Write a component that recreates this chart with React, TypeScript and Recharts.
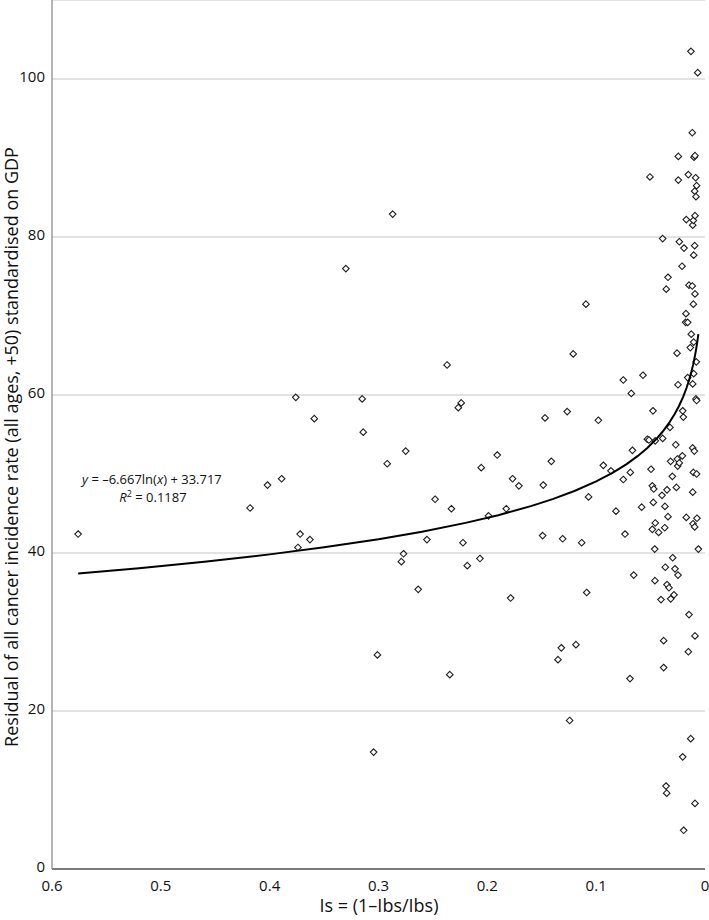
import React from "react";
import {
  ScatterChart,
  Scatter,
  XAxis,
  YAxis,
  CartesianGrid,
} from "recharts";

// Is = (1 - Ibs/Ibs) for each country
const IS_VALUES = [
  0.576, 0.418, 0.402, 0.389, 0.376, 0.372, 0.374, 0.363, 0.359, 0.33,
  0.315, 0.314, 0.3045, 0.301, 0.292, 0.287, 0.279, 0.277, 0.275, 0.2635,
  0.2555, 0.248, 0.237, 0.2345, 0.233, 0.2267, 0.224, 0.2224, 0.2184, 0.2068,
  0.2056, 0.1989, 0.1909, 0.1826, 0.1786, 0.1768, 0.171, 0.1492, 0.1486, 0.147,
  0.1412, 0.1351, 0.132, 0.1308, 0.1266, 0.1244, 0.1211, 0.1186, 0.1133, 0.1094,
  0.1087, 0.107, 0.098, 0.0934, 0.0864, 0.0818, 0.0751, 0.0751, 0.0735, 0.0689,
  0.0686, 0.0677, 0.0667, 0.0655, 0.0582, 0.057, 0.053, 0.0515, 0.0506, 0.0496,
  0.0484, 0.0484, 0.0478, 0.0475, 0.0471, 0.0462, 0.046, 0.0457, 0.0457, 0.0426,
  0.0404, 0.0395, 0.0389, 0.0389, 0.038, 0.038, 0.037, 0.0368, 0.0365, 0.0358,
  0.0356, 0.0352, 0.0349, 0.0349, 0.034, 0.034, 0.0331, 0.0322, 0.0316, 0.0315,
  0.03, 0.0297, 0.0285, 0.0276, 0.0269, 0.0263, 0.0257, 0.0254, 0.0251, 0.0248,
  0.0248, 0.0245, 0.0245, 0.0236, 0.0236, 0.0211, 0.0208, 0.0205, 0.0205, 0.0199,
  0.0196, 0.0193, 0.0178, 0.0175, 0.0172, 0.0172, 0.0159, 0.0159, 0.0153, 0.0153,
  0.0147, 0.0147, 0.0135, 0.0131, 0.0129, 0.0126, 0.0117, 0.0117, 0.0113, 0.0113,
  0.0113, 0.0113, 0.011, 0.0107, 0.0107, 0.0107, 0.0104, 0.0104, 0.0104, 0.0101,
  0.0098, 0.0095, 0.0095, 0.0095, 0.0092, 0.0092, 0.0092, 0.0092, 0.0092, 0.0086,
  0.0083, 0.0083, 0.008, 0.0077, 0.0077, 0.0077, 0.0074, 0.0067, 0.0061,
];

// residual of all cancer incidence rate (+50), same order as IS_VALUES
const RESIDUAL_VALUES = [
  42.4, 45.7, 48.6, 49.4, 59.7, 42.4, 40.7, 41.7, 57.0, 76.0,
  59.5, 55.3, 14.8, 27.1, 51.3, 82.9, 38.9, 39.9, 52.9, 35.4,
  41.7, 46.8, 63.8, 24.6, 45.6, 58.4, 59.0, 41.3, 38.4, 39.3,
  50.8, 44.7, 52.4, 45.6, 34.3, 49.4, 48.5, 42.2, 48.6, 57.1,
  51.6, 26.5, 28.0, 41.8, 57.9, 18.8, 65.2, 28.4, 41.3, 71.5,
  35.0, 47.1, 56.8, 51.1, 50.4, 45.3, 61.9, 49.3, 42.4, 24.1,
  50.2, 60.2, 53.0, 37.2, 45.8, 62.5, 54.4, 54.3, 87.6, 50.6,
  48.5, 43.0, 58.0, 46.4, 48.1, 40.5, 36.5, 54.2, 43.8, 42.6,
  34.1, 47.3, 79.8, 54.5, 28.9, 25.5, 43.2, 45.9, 38.2, 10.5,
  73.4, 9.6, 48.0, 36.0, 74.9, 44.6, 35.6, 55.9, 51.6, 34.2,
  49.7, 39.4, 34.7, 38.0, 53.7, 48.3, 65.3, 51.9, 51.0, 61.3,
  37.2, 90.2, 87.2, 79.4, 51.4, 76.3, 52.3, 58.0, 14.2, 57.2,
  4.9, 78.6, 69.2, 70.3, 82.2, 44.5, 69.2, 62.2, 87.9, 27.5,
  73.9, 32.2, 66.0, 16.5, 103.5, 67.7, 93.2, 73.8, 81.5, 61.4,
  53.3, 47.7, 43.7, 82.1, 71.5, 50.2, 77.7, 66.7, 62.7, 90.1,
  52.9, 85.8, 78.9, 43.3, 90.3, 82.7, 72.8, 29.5, 8.3, 87.5,
  85.1, 59.5, 64.2, 86.5, 59.3, 50.0, 44.4, 100.8, 40.5,
];

// log trendline shown on the chart: y = -6.667 ln(x) + 33.717
const TREND_A = -6.667;
const TREND_B = 33.717;
const TREND_X = [
  0.576, 0.52, 0.46, 0.4, 0.35, 0.3, 0.26, 0.22, 0.19, 0.16, 0.14, 0.12,
  0.1, 0.085, 0.072, 0.062, 0.053, 0.045, 0.039, 0.033, 0.028, 0.024,
  0.02, 0.017, 0.0145, 0.0125, 0.0108, 0.0094, 0.0082, 0.0072, 0.0065, 0.0061,
];

const X_TICKS = [0, 0.1, 0.2, 0.3, 0.4, 0.5, 0.6];
const Y_TICKS = [0, 20, 40, 60, 80, 100];

const points = IS_VALUES.map((x, i) => ({ x, y: RESIDUAL_VALUES[i] }));
const trend = TREND_X.map((x) => ({ x, y: TREND_A * Math.log(x) + TREND_B }));

const FONT = "'Open Sans', 'Liberation Sans', sans-serif";

const Diamond = (props: any) => {
  const { cx, cy } = props;
  if (cx == null || cy == null) return <g />;
  const r = 3.3;
  return (
    <polygon
      points={`${cx},${cy - r} ${cx + r},${cy} ${cx},${cy + r} ${cx - r},${cy}`}
      fill="#ffffff"
      stroke="#1f1f1f"
      strokeWidth={1.1}
    />
  );
};

const NoDot = () => <g />;

export default function App() {
  return (
    <div
      style={{
        position: "absolute",
        left: 0,
        top: 0,
        width: 709,
        height: 920,
        background: "#fff",
        fontFamily: FONT,
      }}
    >
      <ScatterChart
        width={709}
        height={920}
        margin={{ top: 0, right: 4, bottom: 1, left: 12 }}
      >
        <CartesianGrid vertical={false} stroke="#d9d9d9" strokeWidth={1.3} />
        <XAxis
          type="number"
          dataKey="x"
          domain={[0, 0.6]}
          ticks={X_TICKS}
          reversed
          allowDataOverflow
          height={50}
          tickLine={false}
          tickSize={0}
          tickMargin={11}
          axisLine={{ stroke: "#595959", strokeWidth: 1.3 }}
          tick={{ fill: "#111", fontSize: 15, fontFamily: FONT }}
          tickFormatter={(v: number) => (v === 0 ? "0" : String(v))}
        />
        <YAxis
          type="number"
          dataKey="y"
          domain={[0, 110]}
          ticks={Y_TICKS}
          allowDataOverflow
          width={40}
          tickLine={false}
          tickSize={0}
          tickMargin={7}
          axisLine={{ stroke: "#8c8c8c", strokeWidth: 1.3 }}
          tick={{ fill: "#111", fontSize: 15, fontFamily: FONT, dy: -2 }}
        />
        <Scatter
          data={points}
          shape={Diamond}
          isAnimationActive={false}
        />
        <Scatter
          data={trend}
          shape={NoDot}
          line={{ stroke: "#000000", strokeWidth: 2 }}
          isAnimationActive={false}
        />
      </ScatterChart>

      <svg
        width={709}
        height={920}
        style={{ position: "absolute", left: 0, top: 0, pointerEvents: "none" }}
      >
        <text
          transform="translate(18, 447) rotate(-90)"
          textAnchor="middle"
          fontSize={18}
          fontFamily={FONT}
          fill="#111"
        >
          Residual of all cancer incidence rate (all ages, +50) standardised on GDP
        </text>
        <text
          x={379}
          y={912}
          textAnchor="middle"
          fontSize={18}
          fontFamily={FONT}
          fill="#111"
        >
          Is = (1–Ibs/Ibs)
        </text>
        <text x={82} y={484} fontSize={13} fontFamily={FONT} fill="#111">
          <tspan fontStyle="italic">y</tspan> = –6.667ln(
          <tspan fontStyle="italic">x</tspan>) + 33.717
        </text>
        <text
          x={153}
          y={502}
          textAnchor="middle"
          fontSize={13}
          fontFamily={FONT}
          fill="#111"
        >
          <tspan fontStyle="italic">R</tspan>
          <tspan fontSize={9} dy={-5}>2</tspan>
          <tspan dy={5}> = 0.1187</tspan>
        </text>
      </svg>
    </div>
  );
}
